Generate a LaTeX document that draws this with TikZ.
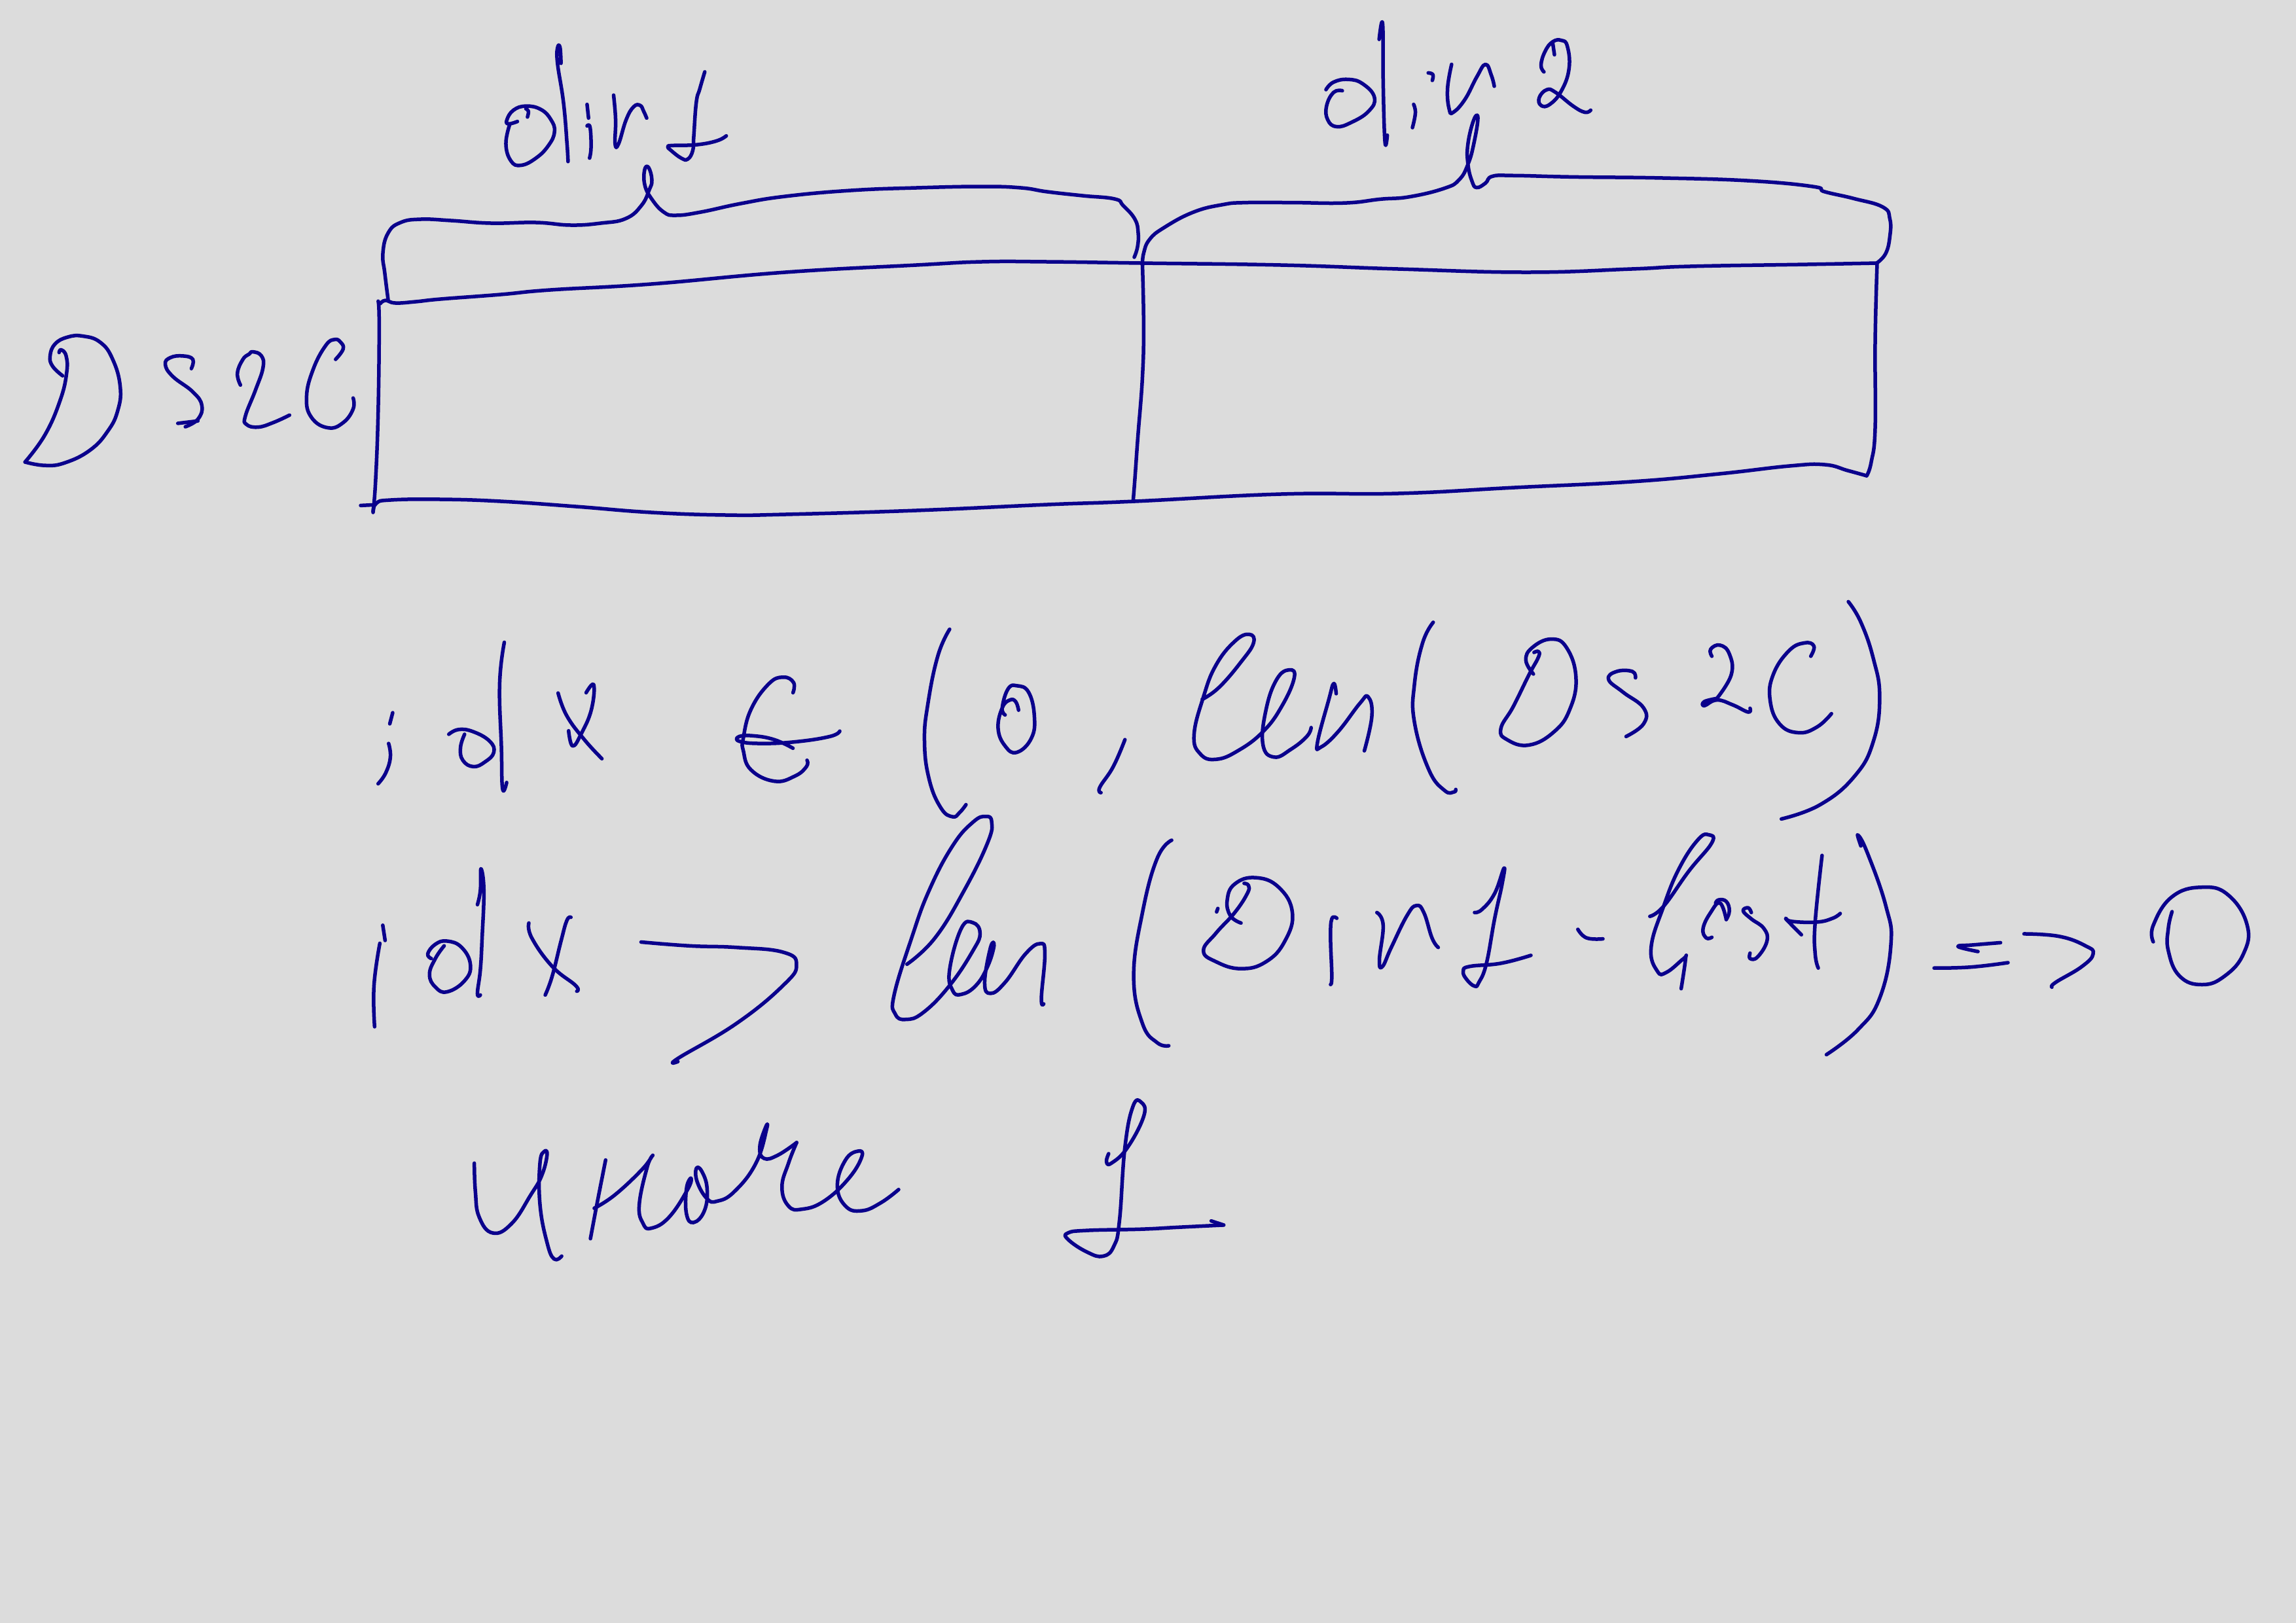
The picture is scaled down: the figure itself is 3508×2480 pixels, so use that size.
\documentclass[tikz,border=0pt]{standalone}
\usepackage{tikz}
\definecolor{inkblue}{RGB}{10,0,140}
\definecolor{boardgray}{RGB}{220,220,220}
\tikzstyle{ink} = [draw=inkblue,line width=1.1pt,line cap=round,line join=round]
\newcommand{\inkline}[2][]{\path[ink,#1] plot[smooth,tension=0.75] coordinates {#2};}
\begin{document}
\begin{tikzpicture}[x=0.2pt,y=-0.2pt]

\path[use as bounding box,fill=boardgray] (0,0) rectangle (3508,2480);

%Top row of the box
\inkline{(581,464)(589,459)(604,463)(635,461)(673,457)(765,450)(841,443)(995,434)(1200,416)(1400,405)(1500,400)(1600,400)(1743,402)(1957,405)(2136,411)(2332,416)(2493,411)(2582,407)(2761,404)(2868,402)}
%Bottom row of the box
\inkline{(570,783)(575,769)(597,764)(673,763)(765,766)(880,774)(995,783)(1109,787)(1200,786)(1400,780)(1600,771)(1734,766)(1957,755)(2136,754)(2314,745)(2493,736)(2627,724)(2734,712)(2788,710)(2823,719)(2852,727)}
\inkline{(2852,727)(2859,706)(2865,654)(2865,523)(2868,402)}
%Bracket one
\inkline{(593,458)(588,418)(585,387)(593,356)(612,340)(643,335)(689,337)(750,341)(819,340)(872,344)(918,341)(956,334)(980,314)(992,290)(996,275)(991,256)(985,259)(985,282)(995,303)(1014,324)(1033,329)(1071,324)(1132,311)(1200,300)(1300,291)(1400,287)(1500,285)(1560,287)(1600,293)(1654,299)(1703,304)(1716,314)(1734,335)(1739,356)(1738,377)(1733,393)}

%Crop one, left of the box
\begin{scope}[shift={(0,0)},xscale=1200/1568,yscale=820/1568]
\inkline{(755,880)(757,950)(755,1200)(750,1400)(745,1495)}
\inkline{(720,1477)(748,1475)}
%d
\inkline{(1033,355)(1015,362)(1012,350)(1025,322)(1050,310)(1080,320)(1100,350)(1107,385)(1095,425)(1070,462)(1040,483)(1020,470)(1010,420)(1018,362)}
\inkline{(1050,318)(1055,325)(1053,342)}
\inkline{(1120,185)(1118,138)(1113,140)(1113,185)(1125,300)(1132,420)(1134,472)}
%i
\inkline{(1172,305)(1175,345)}
\inkline{(1172,368)(1178,372)(1180,430)(1177,462)}
%r
\inkline{(1225,278)(1229,350)(1228,420)(1235,420)(1250,350)(1265,312)(1278,308)(1285,325)(1291,345)}
%one
\inkline{(1407,210)(1397,260)(1390,300)(1385,400)(1383,440)(1373,465)(1360,462)(1340,440)(1333,428)(1345,425)(1390,423)(1430,412)(1450,397)}
%D
\inkline{(125,1098)(105,1070)(100,1040)(110,1005)(135,985)(165,982)(200,1000)(225,1050)(240,1130)(235,1200)(215,1260)(180,1315)(130,1352)(90,1360)(50,1350)}
\inkline{(50,1350)(90,1270)(120,1170)(133,1090)(132,1040)(122,1022)(118,1030)}
%s
\inkline{(382,1077)(385,1050)(365,1040)(340,1045)(330,1065)(345,1100)(385,1145)(403,1185)(395,1225)(370,1247)}
\inkline{(355,1237)(395,1230)}
%2
\inkline{(480,1125)(474,1090)(485,1050)(497,1035)(505,1028)(522,1040)(525,1075)(510,1140)(490,1215)(492,1240)(515,1248)(545,1235)(578,1213)}
%C
\inkline{(670,1050)(685,1020)(680,1000)(668,992)(650,1010)(625,1080)(612,1160)(622,1220)(655,1250)(685,1235)(705,1195)(705,1163)}
\end{scope}

%Crop two, right of the box
\begin{scope}[shift={(1600,0)},xscale=1400/1568,yscale=820/1568]
\inkline{(163,775)(165,950)(163,1100)(155,1280)(150,1400)(147,1465)}
%Bracket two
\inkline{(163,775)(165,740)(175,700)(200,665)(250,620)(300,598)(340,592)(420,592)(510,593)(570,582)(620,575)(680,550)(705,525)(720,480)(730,420)(737,345)(730,350)(720,420)(720,480)(727,530)(735,548)(750,535)(762,515)(800,513)(900,517)(1050,520)(1200,528)(1310,545)(1330,560)(1380,580)(1430,605)(1442,640)(1442,690)(1435,740)(1420,768)}
%d
\inkline{(477,262)(490,240)(515,232)(540,245)(560,285)(550,325)(520,358)(495,370)(480,350)(478,310)(490,270)(505,265)}
\inkline{(568,115)(574,70)(575,250)(578,415)(582,395)}
%i
\inkline{(627,305)(630,330)(625,373)}
\inkline{(652,213)(660,218)(659,235)}
%n
\inkline{(692,188)(685,260)(688,320)(695,328)(715,290)(735,225)(750,188)(760,220)(765,252)}
%2
\inkline{(850,210)(845,190)(852,150)(865,122)(880,118)(890,135)(893,200)(880,265)(860,305)(845,308)(842,285)(855,262)(870,270)(900,310)(920,328)(930,322)}
\inkline{(868,160)(865,125)}
\end{scope}

%Crop three, both rows on the left
\begin{scope}[shift={(500,900)},xscale=1400/1568,yscale=760/1568]
%idx
\inkline{(112,390)(107,425)}
\inkline{(105,487)(108,530)(100,580)(87,614)}
\inkline{(208,458)(225,443)(250,450)(278,480)(285,515)(270,545)(250,560)(232,540)(228,500)(235,458)}
\inkline{(303,168)(295,300)(298,500)(300,630)(307,610)}
\inkline{(395,328)(410,400)(440,475)(470,535)}
\inkline{(443,327)(456,302)(452,380)(435,455)(420,495)(413,447)}
%in sign
\inkline{(797,327)(798,295)(780,278)(755,300)(725,380)(712,470)(712,510)(725,570)(765,606)(800,590)(820,560)(821,540)}
\inkline{(797,502)(765,475)(730,463)(705,465)(705,480)(740,487)(800,482)(860,465)(877,448)}
%bracket and zero
\inkline{(1065,127)(1045,210)(1028,360)(1022,480)(1030,600)(1050,690)(1070,718)(1082,705)(1093,680)}
\inkline{(1160,397)(1155,375)(1165,315)(1180,305)(1200,325)(1210,400)(1205,470)(1180,515)(1160,495)(1148,440)(1155,375)(1168,350)(1178,355)(1183,382)}
\inkline{(1365,475)(1345,560)(1322,625)(1324,642)}
%idx again
\inkline{(95,1060)(99,1108)}
\inkline{(90,1117)(80,1250)(81,1380)}
\inkline{(178,1165)(172,1150)(185,1120)(205,1110)(230,1130)(245,1185)(235,1235)(205,1270)(185,1255)(175,1215)(185,1165)(200,1125)}
\inkline{(257,995)(262,950)(263,882)(268,950)(265,1100)(262,1200)(257,1275)(262,1280)}
\inkline{(345,1053)(350,1100)(385,1190)(425,1250)(427,1268)}
\inkline{(417,1035)(410,1045)(400,1110)(385,1220)(373,1280)}
%greater
\inkline{(537,1113)(620,1125)(700,1130)(780,1145)(803,1185)(780,1250)(700,1370)(600,1480)(600,1490)}
%len
\inkline{(992,1183)(1040,1100)(1090,950)(1130,800)(1137,735)(1127,717)(1105,735)(1070,810)(1030,950)(1000,1100)(970,1280)(972,1340)(990,1357)(1020,1335)(1065,1250)(1105,1140)(1117,1085)(1105,1052)(1085,1070)(1065,1200)(1070,1265)(1085,1278)(1110,1250)(1130,1190)(1141,1125)(1135,1130)(1125,1240)(1135,1275)(1160,1240)(1195,1150)(1220,1118)(1228,1150)(1222,1290)(1226,1308)}
\inkline{(1445,792)(1420,850)(1395,1020)(1380,1220)(1395,1370)(1420,1430)(1440,1440)}
\end{scope}

%Crop four, both rows on the right
\begin{scope}[shift={(1700,900)},xscale=1500/1568,yscale=760/1568]
%len
\inkline{(143,348)(170,310)(205,230)(225,170)(218,143)(195,165)(165,240)(145,340)(130,460)(140,520)(165,537)(200,510)(240,450)(270,370)(290,280)(282,255)(262,285)(245,380)(240,490)(258,530)(285,505)(310,465)(317,437)}
\inkline{(357,330)(353,298)(345,350)(327,485)(333,498)(360,450)(395,360)(408,340)(414,400)(402,510)}
\inkline{(512,105)(495,170)(482,300)(482,420)(505,570)(530,635)(545,640)(548,632)}
%Ds2C
\inkline{(672,268)(660,225)(670,185)(700,158)(725,185)(740,280)(730,380)(705,450)(665,492)(630,475)(620,440)(640,370)(665,270)(680,215)(680,197)(673,200)}
\inkline{(835,280)(830,260)(805,260)(792,285)(815,325)(848,375)(848,425)(820,465)}
\inkline{(957,212)(955,190)(970,177)(985,205)(988,270)(965,345)}
\inkline{(965,345)(945,355)(945,368)(965,350)(990,365)(1015,388)(1018,376)}
\inkline{(1115,212)(1120,180)(1105,170)(1080,195)(1055,270)(1050,350)(1065,425)(1095,453)(1125,435)(1148,393)}
\inkline{(1175,40)(1195,105)(1215,220)(1225,340)(1215,480)(1185,590)(1130,680)(1068,725)}
%Dint
\inkline{(205,1053)(188,1030)(183,980)(195,930)(228,910)(265,940)(287,1020)(275,1110)(245,1175)(205,1197)(165,1175)(145,1140)(165,1085)(195,1020)(215,960)(217,935)(210,928)}
\inkline{(168,1007)(166,1018)}
\inkline{(358,1038)(350,1040)(348,1100)(350,1220)(348,1247)}
\inkline{(422,1020)(432,1060)(426,1170)(431,1190)(445,1130)(470,1030)(485,998)(497,1020)(510,1100)(520,1130)}
\inkline{(578,1020)(590,1010)(610,960)(625,880)(622,930)(610,1040)(597,1180)(585,1240)(578,1252)(565,1230)(560,1205)(570,1190)(620,1180)(668,1155)}
\inkline{(743,1073)(757,1100)(783,1103)}
%fast
\inkline{(858,1032)(880,1000)(920,890)(957,800)(952,775)(935,790)(905,880)(880,1000)(860,1130)(870,1205)(885,1208)(912,1165)(915,1166)(908,1260)}
\inkline{(957,1098)(948,1100)(943,1070)(955,1020)(970,990)(980,1042)}
\inkline{(980,1042)(985,1015)(980,985)(968,980)(963,990)}
\inkline{(1020,1020)(1015,1005)(1007,1015)(1020,1040)(1040,1070)(1045,1110)(1030,1160)(1018,1165)(1018,1148)}
\inkline{(1133,840)(1122,1050)(1122,1150)(1127,1195)}
\inkline{(1100,1090)(1080,1050)(1075,1038)(1085,1048)(1125,1050)(1150,1038)(1162,1023)}
\inkline{(1195,810)(1190,775)(1205,830)(1235,1000)(1243,1120)(1225,1290)(1190,1390)(1140,1468)}
%implies
\inkline{(1382,1143)(1350,1127)(1375,1122)(1418,1115)}
\inkline{(1312,1195)(1370,1192)(1430,1178)}
\end{scope}

%Crop five, last row
\begin{scope}[shift={(500,1220)},xscale=1300/1568,yscale=760/1568]
\inkline{(271,1150)(273,1240)(280,1320)(305,1370)(340,1340)(375,1250)(395,1190)(405,1125)(400,1113)(392,1150)(392,1280)(405,1400)(418,1452)(432,1443)}
\inkline{(513,1140)(498,1270)(485,1388)}
\inkline{(492,1292)(530,1250)(580,1170)(600,1125)(590,1160)(575,1280)(582,1340)(597,1355)(630,1320)(665,1230)(670,1197)(662,1230)(662,1310)(675,1337)(695,1300)(700,1230)(690,1175)(680,1167)(682,1210)(700,1262)(718,1270)(750,1240)(790,1150)(810,1040)(807,1040)(797,1100)(805,1135)(830,1125)(865,1085)}
\inkline{(865,1085)(850,1150)(838,1225)(850,1285)(875,1295)(915,1270)(960,1200)(985,1130)(978,1112)(955,1140)(940,1220)(955,1285)(985,1300)(1020,1275)(1053,1233)}
%one
\inkline{(1440,1120)(1436,1145)(1445,1150)(1475,1100)(1505,1000)(1500,958)(1485,970)(1470,1100)(1460,1330)(1450,1410)(1430,1443)(1400,1430)(1365,1390)(1365,1370)(1400,1362)(1500,1358)(1568,1352)(1652,1345)}
\inkline{(1629,1332)(1652,1345)}
\end{scope}

%Crop six, tail of the second row
\begin{scope}[shift={(1700,1220)},xscale=1800/1568,yscale=760/1568]
\inkline{(1213,427)(1260,435)(1295,465)(1305,490)(1290,530)(1255,580)(1250,595)}
\inkline{(1385,452)(1385,400)(1410,310)(1450,280)(1485,305)(1510,400)(1505,490)(1480,560)(1450,587)(1420,560)(1405,480)(1405,410)(1410,357)}
\end{scope}

\end{tikzpicture}
\end{document}
